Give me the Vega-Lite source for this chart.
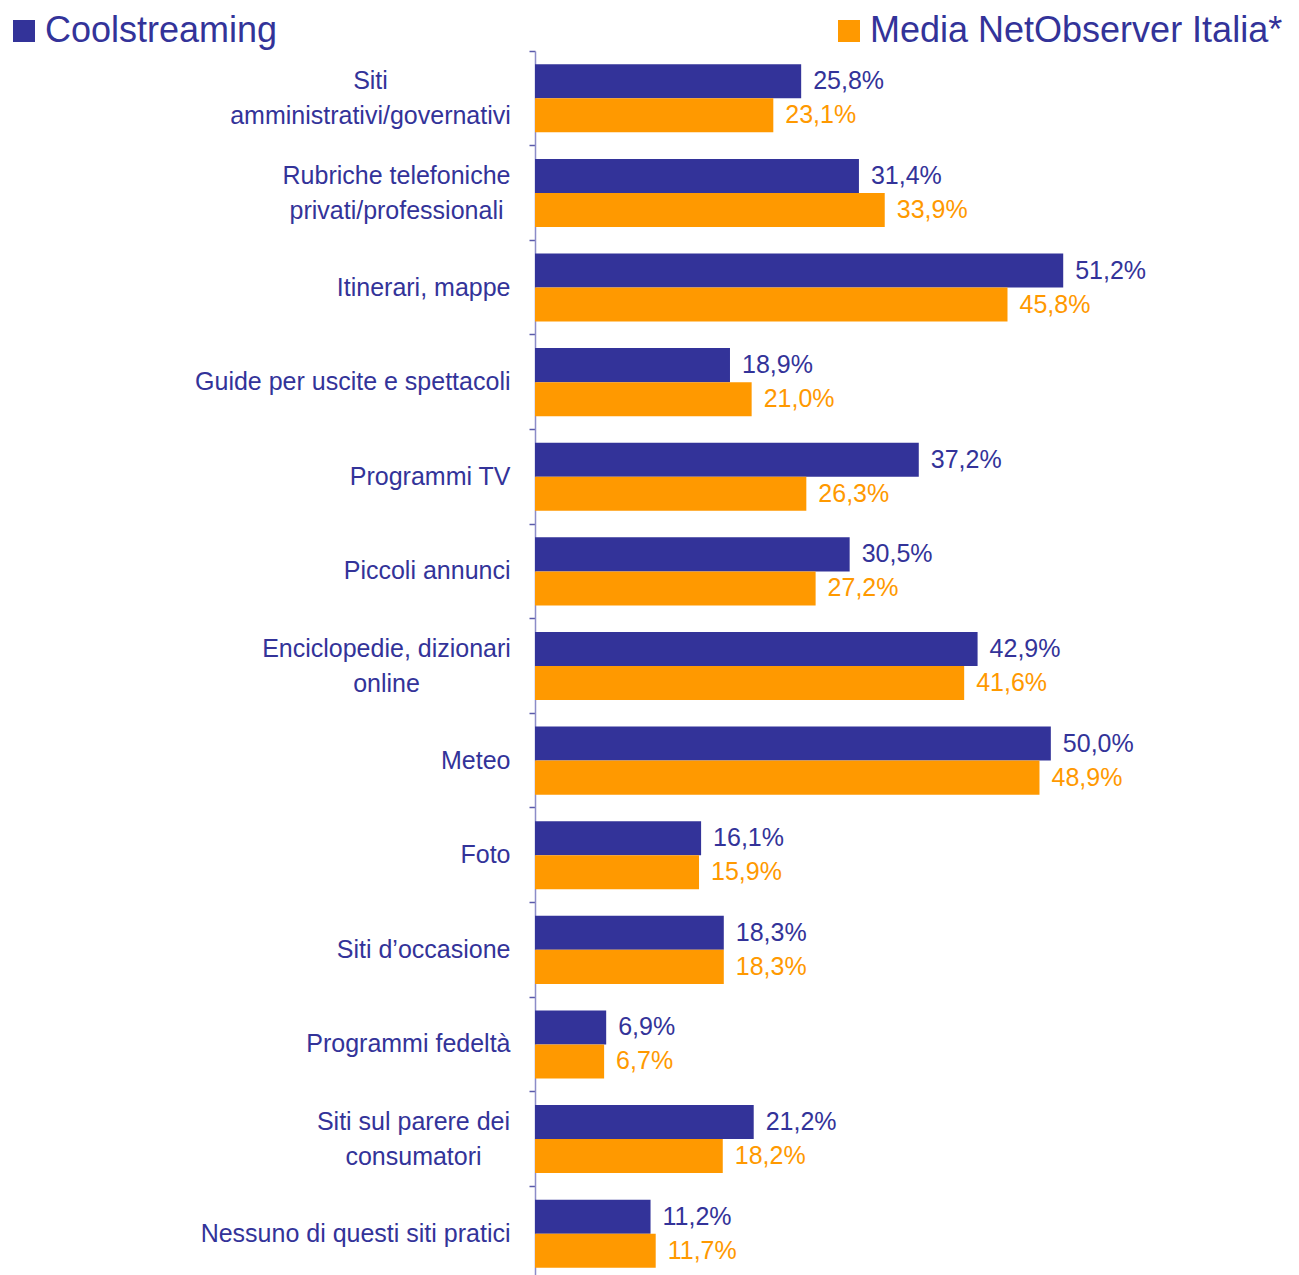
{
  "$schema": "https://vega.github.io/schema/vega-lite/v6.json",
  "width": 619,
  "height": 1230,
  "autosize": {"type": "none"},
  "padding": {"left": 535, "top": 51, "right": 145, "bottom": 0},
  "background": "white",
  "config": {"view": {"stroke": null}, "font": "Liberation Sans"},
  "data": {
    "values": [
      {"cat": "Siti|amministrativi/governativi", "series": "Coolstreaming", "value": 25.8},
      {"cat": "Siti|amministrativi/governativi", "series": "Media NetObserver Italia*", "value": 23.1},
      {"cat": "Rubriche telefoniche|privati/professionali", "series": "Coolstreaming", "value": 31.4},
      {"cat": "Rubriche telefoniche|privati/professionali", "series": "Media NetObserver Italia*", "value": 33.9},
      {"cat": "Itinerari, mappe", "series": "Coolstreaming", "value": 51.2},
      {"cat": "Itinerari, mappe", "series": "Media NetObserver Italia*", "value": 45.8},
      {"cat": "Guide per uscite e spettacoli", "series": "Coolstreaming", "value": 18.9},
      {"cat": "Guide per uscite e spettacoli", "series": "Media NetObserver Italia*", "value": 21.0},
      {"cat": "Programmi TV", "series": "Coolstreaming", "value": 37.2},
      {"cat": "Programmi TV", "series": "Media NetObserver Italia*", "value": 26.3},
      {"cat": "Piccoli annunci", "series": "Coolstreaming", "value": 30.5},
      {"cat": "Piccoli annunci", "series": "Media NetObserver Italia*", "value": 27.2},
      {"cat": "Enciclopedie, dizionari|online", "series": "Coolstreaming", "value": 42.9},
      {"cat": "Enciclopedie, dizionari|online", "series": "Media NetObserver Italia*", "value": 41.6},
      {"cat": "Meteo", "series": "Coolstreaming", "value": 50.0},
      {"cat": "Meteo", "series": "Media NetObserver Italia*", "value": 48.9},
      {"cat": "Foto", "series": "Coolstreaming", "value": 16.1},
      {"cat": "Foto", "series": "Media NetObserver Italia*", "value": 15.9},
      {"cat": "Siti d’occasione", "series": "Coolstreaming", "value": 18.3},
      {"cat": "Siti d’occasione", "series": "Media NetObserver Italia*", "value": 18.3},
      {"cat": "Programmi fedeltà", "series": "Coolstreaming", "value": 6.9},
      {"cat": "Programmi fedeltà", "series": "Media NetObserver Italia*", "value": 6.7},
      {"cat": "Siti sul parere dei|consumatori", "series": "Coolstreaming", "value": 21.2},
      {"cat": "Siti sul parere dei|consumatori", "series": "Media NetObserver Italia*", "value": 18.2},
      {"cat": "Nessuno di questi siti pratici", "series": "Coolstreaming", "value": 11.2},
      {"cat": "Nessuno di questi siti pratici", "series": "Media NetObserver Italia*", "value": 11.7}
    ]
  },
  "transform": [
    {"calculate": "replace(format(datum.value, '.1f'), '.', ',') + '%'", "as": "label"}
  ],
  "encoding": {
    "y": {
      "field": "cat",
      "type": "nominal",
      "sort": null,
      "scale": {"paddingInner": 0, "paddingOuter": 0},
      "axis": {
        "title": null,
        "labelExpr": "split(datum.label, '|')",
        "labelFont": "Liberation Sans",
        "labelFontSize": 25,
        "labelColor": "#333399",
        "labelLineHeight": 35,
        "labelLimit": 0,
        "labelOverlap": false,
        "labelBaseline": "middle",
        "labelAlign": {"condition": {"test": "indexof(datum.value, '|') >= 0", "value": "center"}, "value": "right"},
        "labelOffset": {"condition": {"test": "indexof(datum.value, '|') >= 0", "value": -17}, "value": 0},
        "labelPadding": {"expr": "indexof(datum.value, 'amministrativi') >= 0 ? 159 : indexof(datum.value, 'Rubriche') >= 0 ? 133 : indexof(datum.value, 'Enciclopedie') >= 0 ? 143 : indexof(datum.value, 'parere') >= 0 ? 116 : 19"},
        "bandPosition": 0,
        "tickSize": 6,
        "tickColor": "#5A5AAA",
        "tickWidth": 1.5,
        "domainColor": "#8C8CC8",
        "domainWidth": 1.5
      }
    },
    "yOffset": {
      "field": "series",
      "type": "nominal",
      "scale": {"paddingInner": 0, "paddingOuter": 0.39}
    },
    "x": {
      "field": "value",
      "type": "quantitative",
      "scale": {"domain": [0, 60], "nice": false},
      "axis": null
    },
    "color": {
      "field": "series",
      "type": "nominal",
      "scale": {"domain": ["Coolstreaming", "Media NetObserver Italia*"], "range": ["#333399", "#FF9900"]},
      "legend": {
        "title": null,
        "orient": "none",
        "legendX": -529,
        "legendY": -38,
        "direction": "horizontal",
        "symbolType": "square",
        "symbolSize": 484,
        "labelFontSize": 36,
        "labelFont": "Liberation Sans",
        "labelColor": "#333399",
        "labelOffset": 3,
        "labelLimit": 600,
        "columnPadding": 553
      }
    }
  },
  "layer": [
    {"mark": {"type": "bar"}},
    {
      "mark": {"type": "text", "align": "left", "baseline": "middle", "dx": 12, "fontSize": 25, "font": "Liberation Sans"},
      "encoding": {"text": {"field": "label", "type": "nominal"}}
    }
  ]
}
